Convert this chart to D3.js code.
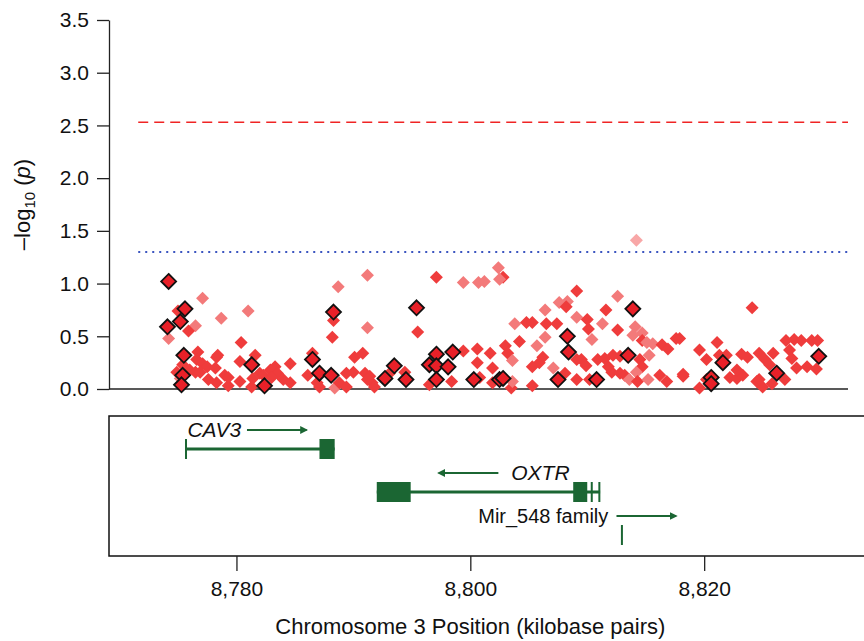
<!DOCTYPE html>
<html>
<head>
<meta charset="utf-8">
<script src="https://cdn.jsdelivr.net/npm/d3@7"></script>
<style>
  body { margin: 0; background: #fff; }
  svg { font-family: "Liberation Sans Narrow", "Arial Narrow", "Liberation Sans", sans-serif; }
</style>
</head>
<body>
<div id="chart"></div>
<script>
// SNP positions (kb) and -log10(p); shade 0 = red, 1 = pink, 2 = pale
const snpPos = [
  8775.0, 8777.1, 8778.7, 8781.0, 8776.5, 8775.9, 8774.2, 8780.4, 8776.7, 8778.4,
  8781.6, 8780.3, 8784.6, 8788.7, 8788.3, 8788.2, 8776.6, 8777.1, 8777.5, 8778.3,
  8778.2, 8779.0, 8777.6, 8778.3, 8779.3, 8780.3, 8782.0, 8782.9, 8783.3, 8783.5,
  8784.0, 8784.6, 8786.1, 8786.5, 8786.9, 8787.1, 8788.4, 8788.8, 8789.4, 8775.4,
  8776.0, 8776.5, 8774.9, 8775.2, 8781.4, 8781.3, 8782.3, 8789.4, 8776.9, 8779.3,
  8783.0,
  8791.2, 8797.1, 8799.4, 8800.7, 8801.2, 8802.4, 8802.8, 8802.5, 8795.5, 8791.2,
  8803.8, 8804.8, 8804.2, 8803.0, 8803.2, 8803.6, 8800.6, 8801.7, 8799.4, 8800.6,
  8801.9, 8790.8, 8790.1, 8790.0, 8791.0, 8791.4, 8791.6, 8791.8, 8798.4, 8796.5,
  8800.8, 8801.9, 8803.5, 8803.6, 8793.1, 8794.4, 8791.2,
  8814.2, 8809.1, 8807.6, 8808.3, 8808.2, 8812.6, 8811.6, 8806.4, 8809.1, 8810.0,
  8805.3, 8806.5, 8807.4, 8811.3, 8810.1, 8812.6, 8814.1, 8813.9, 8814.7, 8806.4,
  8810.4, 8805.7, 8814.7, 8815.1, 8815.6, 8817.6, 8816.4, 8816.9, 8819.6, 8820.2,
  8812.8, 8806.2, 8805.9, 8805.3, 8809.5, 8809.9, 8810.9, 8811.5, 8812.2, 8814.5,
  8814.7, 8814.2, 8807.1, 8808.1, 8809.1, 8810.2, 8812.1, 8812.8, 8813.2, 8813.6,
  8814.3, 8815.2, 8816.2, 8816.8, 8818.2, 8805.3, 8819.6, 8811.8, 8809.1, 8815.3,
  8824.1, 8817.9, 8821.1, 8821.3, 8821.9, 8823.2, 8823.7, 8824.7, 8825.2, 8825.9,
  8825.6, 8826.9, 8818.2, 8820.2, 8822.2, 8822.8, 8823.3, 8824.5, 8825.0, 8825.8,
  8827.0, 8827.7, 8828.3, 8829.2, 8829.7, 8827.3, 8827.5, 8827.9, 8828.8, 8829.6,
  8822.8, 8824.7
];
const snpLogP = [
  0.74, 0.86, 0.67, 0.74, 0.60, 0.55, 0.48, 0.44, 0.35, 0.32,
  0.32, 0.26, 0.24, 0.97, 0.65, 0.49, 0.28, 0.24, 0.21, 0.30,
  0.20, 0.13, 0.09, 0.06, 0.03, 0.07, 0.15, 0.18, 0.21, 0.15,
  0.09, 0.06, 0.13, 0.34, 0.06, 0.02, 0.01, 0.06, 0.15, 0.23,
  0.18, 0.16, 0.16, 0.10, 0.10, 0.02, 0.13, 0.02, 0.16, 0.11,
  0.11,
  1.08, 1.06, 1.01, 1.01, 1.02, 1.15, 1.06, 1.04, 0.54, 0.58,
  0.62, 0.63, 0.45, 0.41, 0.34, 0.27, 0.38, 0.34, 0.36, 0.25,
  0.20, 0.34, 0.30, 0.16, 0.15, 0.12, 0.06, 0.02, 0.07, 0.04,
  0.11, 0.06, 0.01, 0.07, 0.15, 0.16, 0.09,
  1.41, 0.93, 0.82, 0.83, 0.78, 0.88, 0.75, 0.75, 0.68, 0.66,
  0.63, 0.62, 0.62, 0.62, 0.57, 0.56, 0.59, 0.51, 0.53, 0.49,
  0.47, 0.41, 0.46, 0.44, 0.43, 0.48, 0.42, 0.38, 0.37, 0.28,
  0.31, 0.30, 0.25, 0.21, 0.28, 0.22, 0.28, 0.29, 0.32, 0.28,
  0.21, 0.16, 0.20, 0.15, 0.09, 0.09, 0.16, 0.15, 0.13, 0.09,
  0.07, 0.09, 0.13, 0.07, 0.14, 0.03, 0.01, 0.21, 0.28, 0.32,
  0.77, 0.48, 0.44, 0.32, 0.32, 0.33, 0.30, 0.34, 0.28, 0.34,
  0.23, 0.09, 0.12, 0.09, 0.11, 0.10, 0.13, 0.07, 0.02, 0.05,
  0.46, 0.47, 0.46, 0.46, 0.46, 0.37, 0.29, 0.20, 0.21, 0.19,
  0.18, 0.09
];
const snpShade = [
  0, 1, 1, 1, 1, 0, 1, 0, 0, 0,
  0, 0, 0, 1, 0, 0, 0, 0, 0, 0,
  0, 0, 0, 0, 0, 0, 0, 0, 0, 0,
  0, 0, 0, 0, 0, 0, 1, 0, 0, 0,
  0, 0, 0, 1, 0, 0, 0, 0, 0, 0,
  0,
  1, 0, 1, 1, 1, 1, 0, 1, 0, 1,
  1, 0, 0, 0, 0, 1, 0, 0, 0, 0,
  0, 0, 0, 0, 0, 0, 0, 0, 0, 0,
  0, 0, 0, 1, 0, 0, 0,
  2, 0, 1, 1, 0, 1, 0, 1, 1, 0,
  0, 0, 0, 1, 0, 0, 1, 1, 1, 1,
  1, 1, 0, 1, 1, 0, 0, 0, 0, 0,
  0, 0, 0, 0, 0, 0, 0, 0, 0, 0,
  0, 1, 1, 0, 0, 0, 0, 0, 0, 1,
  0, 1, 0, 0, 0, 0, 0, 0, 0, 1,
  0, 0, 0, 0, 0, 0, 0, 0, 0, 0,
  0, 0, 0, 0, 0, 0, 0, 0, 0, 0,
  0, 0, 0, 0, 0, 0, 0, 0, 0, 0,
  0, 0
];

// genotyped SNPs (outlined diamonds)
const typedPos = [
  8774.2, 8775.6, 8775.2, 8774.1, 8775.5, 8775.4, 8775.3, 8781.3, 8782.4, 8786.5,
  8787.1, 8788.1, 8788.3, 8795.4, 8797.1, 8798.5, 8796.5, 8797.1, 8798.1, 8797.1,
  8800.3, 8802.5, 8802.8, 8793.5, 8792.7, 8794.5, 8808.3, 8808.4, 8813.9, 8813.5,
  8807.5, 8810.8, 8821.6, 8826.2, 8820.6, 8820.6, 8829.8
];
const typedLogP = [
  1.02, 0.76, 0.64, 0.59, 0.32, 0.13, 0.04, 0.23, 0.03, 0.28,
  0.15, 0.13, 0.73, 0.77, 0.33, 0.35, 0.23, 0.22, 0.21, 0.09,
  0.09, 0.09, 0.10, 0.22, 0.10, 0.09, 0.50, 0.35, 0.76, 0.32,
  0.09, 0.09, 0.25, 0.15, 0.11, 0.05, 0.31
];

const thresholds = [2.53, 1.3];
const yTicks = [0, 0.5, 1, 1.5, 2, 2.5, 3, 3.5];
const xTicks = [8780, 8800, 8820];

// gene models (kb)
const geneNames = ["CAV3", "OXTR", "Mir_548 family"];
const geneSpan = [[8775.6, 8788.4], [8792.0, 8811.1], [8812.9, 8812.9]];
const geneExons = [
  [[8775.6, 8775.7], [8787.1, 8788.4]],
  [[8792.0, 8794.9], [8808.8, 8810.0], [8810.3, 8810.45], [8810.95, 8811.1]],
  [[8812.88, 8812.92]]
];
const geneArrow = [[8780.9, 8786.0], [8802.4, 8797.3], [8812.5, 8817.6]];
const geneLabelAt = [8780.4, 8803.5, 8811.8];

const W = 864, H = 641;
const svg = d3.select("#chart").append("svg")
  .attr("width", W).attr("height", H);

const x = d3.scaleLinear().domain([8769.1, 8832.3]).range([109, 848]);
const y = d3.scaleLinear().domain([0, 3.5]).range([389, 20]);

const red = "#ef3c3c", pink = "#f37a7a", pale = "#f8a7a7";
const shadeColor = [red, pink, pale];
const green = "#1b6633";

// y axis
const yAxis = svg.append("g")
  .attr("transform", "translate(109,0)")
  .call(d3.axisLeft(y).tickValues(yTicks).tickFormat(d3.format(".1f")).tickSize(12).tickPadding(8).tickSizeOuter(0));
yAxis.select(".domain").attr("stroke", "#222").attr("stroke-width", 1.3);
yAxis.selectAll(".tick line").attr("stroke", "#222").attr("stroke-width", 1.3);
yAxis.selectAll("text").attr("font-size", 21).attr("fill", "#111").attr("font-family", "inherit");

// baseline
svg.append("line")
  .attr("x1", x.range()[0]).attr("x2", x.range()[1])
  .attr("y1", y(0)).attr("y2", y(0))
  .attr("stroke", "#222").attr("stroke-width", 1.5);

// y title
const yt = svg.append("text")
  .attr("transform", "translate(30," + y(1.75) + ") rotate(-90)")
  .attr("text-anchor", "middle")
  .attr("font-size", 22).attr("fill", "#111");
yt.append("tspan").text("\u2013log");
yt.append("tspan").attr("font-size", 15).attr("dy", 5).text("10");
yt.append("tspan").attr("dy", -5).text(" (");
yt.append("tspan").attr("font-style", "italic").text("p");
yt.append("tspan").text(")");

// threshold lines
svg.append("line")
  .attr("x1", x(8771.6)).attr("x2", x.range()[1])
  .attr("y1", y(thresholds[0])).attr("y2", y(thresholds[0]))
  .attr("stroke", "#f02424").attr("stroke-width", 1.3)
  .attr("stroke-dasharray", "10,6");
svg.append("line")
  .attr("x1", x(8771.6)).attr("x2", x.range()[1])
  .attr("y1", y(thresholds[1])).attr("y2", y(thresholds[1]))
  .attr("stroke", "#3b55c0").attr("stroke-width", 2)
  .attr("stroke-dasharray", "2,5");

// points
const diamond = r => `M0,${-r}L${r},0L0,${r}L${-r},0Z`;
const snps = snpPos.map((p, i) => ({pos: p, lp: snpLogP[i], shade: snpShade[i]}));
svg.append("g").selectAll("path").data(snps).join("path")
  .attr("d", diamond(6.5))
  .attr("transform", d => `translate(${x(d.pos)},${y(d.lp)})`)
  .attr("fill", d => shadeColor[d.shade]);

const typed = typedPos.map((p, i) => ({pos: p, lp: typedLogP[i]}));
svg.append("g").selectAll("path").data(typed).join("path")
  .attr("d", diamond(7.5))
  .attr("transform", d => `translate(${x(d.pos)},${y(d.lp)})`)
  .attr("fill", "#e82028")
  .attr("stroke", "#111").attr("stroke-width", 1.8);

// gene track box
svg.append("rect")
  .attr("x", 109).attr("y", 416).attr("width", 780).attr("height", 140)
  .attr("fill", "none").attr("stroke", "#111").attr("stroke-width", 1.5);

svg.append("defs").append("marker")
  .attr("id", "arr").attr("viewBox", "0 0 10 10")
  .attr("refX", 8).attr("refY", 5)
  .attr("markerWidth", 4).attr("markerHeight", 4)
  .attr("orient", "auto-start-reverse")
  .append("path").attr("d", "M0,0L10,5L0,10Z").attr("fill", green);

const rowY = [449, 492, 535];
geneNames.forEach((name, i) => {
  const g = svg.append("g");
  const ry = rowY[i];
  if (i < 2) {
    g.append("line")
      .attr("x1", x(geneSpan[i][0])).attr("x2", x(geneSpan[i][1]))
      .attr("y1", ry).attr("y2", ry)
      .attr("stroke", green).attr("stroke-width", 3);
  }
  g.selectAll("rect").data(geneExons[i]).join("rect")
    .attr("x", d => x(d[0]))
    .attr("width", d => Math.max(2, x(d[1]) - x(d[0])))
    .attr("y", ry - 10).attr("height", 20)
    .attr("fill", green);
  g.append("line")
    .attr("x1", x(geneArrow[i][0])).attr("x2", x(geneArrow[i][1]))
    .attr("y1", ry - 19).attr("y2", ry - 19)
    .attr("stroke", green).attr("stroke-width", 2)
    .attr("marker-end", "url(#arr)");
  g.append("text")
    .attr("x", x(geneLabelAt[i])).attr("y", ry - 19)
    .attr("dy", "0.35em")
    .attr("text-anchor", i === 1 ? "start" : "end")
    .attr("font-size", i === 2 ? 20 : 21)
    .attr("font-style", i === 2 ? "normal" : "italic")
    .attr("fill", "#111")
    .text(name);
});

// x axis below the gene box
const xAxis = svg.append("g")
  .attr("transform", "translate(0,556)")
  .call(d3.axisBottom(x).tickValues(xTicks).tickFormat(d3.format(",")).tickSize(15).tickPadding(10).tickSizeOuter(0));
xAxis.select(".domain").remove();
xAxis.selectAll(".tick line").attr("stroke", "#222").attr("stroke-width", 1.3);
xAxis.selectAll("text").attr("font-size", 21).attr("fill", "#111").attr("font-family", "inherit");

svg.append("text")
  .attr("x", x(8800)).attr("y", 634)
  .attr("text-anchor", "middle")
  .attr("font-size", 22).attr("fill", "#111")
  .text("Chromosome 3 Position (kilobase pairs)");
</script>
</body>
</html>
